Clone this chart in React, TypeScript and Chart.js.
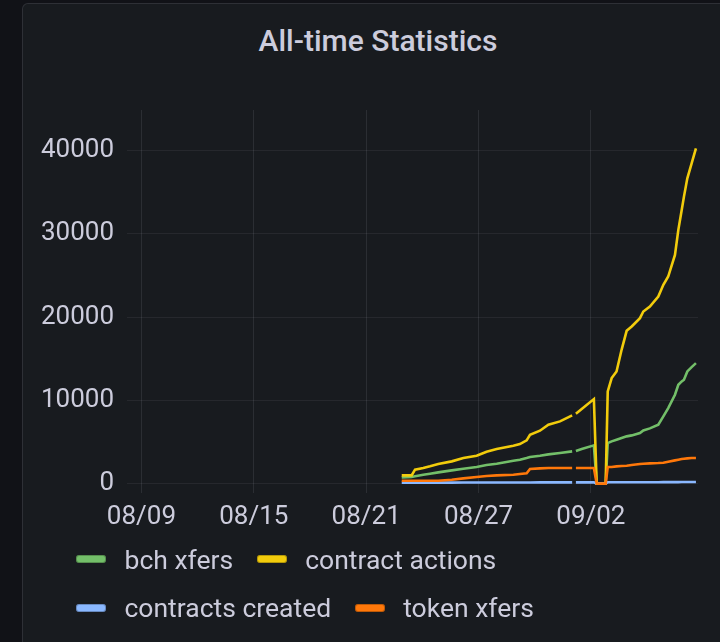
import React, { useEffect, useRef } from "react";
import { Chart, registerables } from "chart.js";

Chart.register(...registerables);

const chartTitle = "All-time Statistics";
const seriesNames = ["bch xfers", "contract actions", "contracts created", "token xfers"];
const seriesColors = ["#73BF69", "#F2CC0C", "#8AB8FF", "#FF780A"];
const legendRows = [
  [0, 1],
  [2, 3],
];

// sample times, in days since 08/09 00:00
const times = [
  13.9, 14.43, 14.61, 15.05, 15.41, 15.85, 16.57, 17.19, 17.9, 18.43,
  18.97, 19.86, 20.21, 20.57, 20.75, 21.28, 21.73, 22.35, 23.0, 23.1,
  23.2, 23.51, 24.16, 24.31, 24.79, 24.9, 25.11, 25.37, 25.64, 25.91,
  26.18, 26.62, 26.8, 27.15, 27.6, 27.87, 28.13, 28.49, 28.67, 28.85,
  28.97, 29.15, 29.38, 29.61,
];

const bchXfers = [
  760, 800, 880, 1080, 1200, 1360, 1600, 1800, 2000, 2240,
  2400, 2760, 2880, 3080, 3200, 3360, 3520, 3680, 3880, null,
  3920, 4160, 4600, 0, 0, 4880, 5080, 5280, 5480, 5680,
  5800, 6080, 6400, 6640, 7080, 8080, 9080, 10680, 11880, 12280,
  12480, 13480, 14000, 14480,
];

const contractActions = [
  1000, 1000, 1680, 1880, 2080, 2360, 2680, 3080, 3360, 3840,
  4160, 4560, 4760, 5200, 5880, 6360, 7080, 7480, 8200, null,
  8400, 8960, 10160, 0, 0, 11080, 12680, 13480, 16080, 18360,
  18880, 19880, 20680, 21280, 22480, 23880, 24880, 27480, 30480, 32880,
  34480, 36680, 38480, 40280,
];

const contractsCreated = [
  120, 120, 120, 120, 130, 130, 130, 140, 140, 140,
  150, 150, 150, 150, 150, 160, 160, 160, 160, null,
  160, 160, 160, 0, 0, 170, 170, 170, 170, 170,
  180, 180, 180, 180, 180, 190, 190, 190, 190, 200,
  200, 200, 200, 200,
];

const tokenXfers = [
  360, 360, 360, 360, 360, 360, 480, 640, 800, 920,
  1000, 1080, 1160, 1240, 1760, 1840, 1880, 1880, 1880, null,
  1880, 1880, 1880, 0, 0, 2000, 2000, 2080, 2120, 2160,
  2240, 2360, 2400, 2440, 2480, 2520, 2640, 2800, 2880, 2960,
  3000, 3040, 3080, 3080,
];

const xTickDays = [0, 6, 12, 18, 24];
const xTickLabels = ["08/09", "08/15", "08/21", "08/27", "09/02"];
const yTickValues = [0, 10000, 20000, 30000, 40000];

const textColor = "rgb(204, 204, 220)";
const fontFamily = "Roboto, 'Noto Sans', sans-serif";

export default function App() {
  const canvasRef = useRef<HTMLCanvasElement>(null);

  useEffect(() => {
    const canvas = canvasRef.current;
    if (!canvas) return;
    const seriesValues = [bchXfers, contractActions, contractsCreated, tokenXfers];
    const chart = new Chart(canvas, {
      type: "line",
      data: {
        datasets: seriesNames.map((name, i) => ({
          label: name,
          data: times.map((t, j) => ({ x: t, y: seriesValues[i][j] })),
          borderColor: seriesColors[i],
          backgroundColor: seriesColors[i],
          borderWidth: 2.6,
          pointRadius: 0,
          pointHoverRadius: 0,
          tension: 0,
          spanGaps: false,
          fill: false,
          order: seriesNames.length - 1 - i,
        })),
      },
      options: {
        responsive: false,
        animation: false,
        layout: { padding: { left: 0, right: 22, top: 110, bottom: 0 } },
        plugins: {
          legend: { display: false },
          tooltip: { enabled: false },
          title: { display: false },
        },
        scales: {
          x: {
            type: "linear",
            min: -0.77,
            max: 29.72,
            afterBuildTicks: (scale: any) => {
              scale.ticks = xTickDays.map((v) => ({ value: v }));
            },
            afterFit: (scale: any) => {
              scale.height = 149;
            },
            ticks: {
              autoSkip: false,
              maxRotation: 0,
              minRotation: 0,
              padding: 9,
              color: textColor,
              font: { family: fontFamily, size: 26 },
              callback: (_v: any, index: number) => xTickLabels[index],
            },
            grid: { color: "rgba(204, 204, 220, 0.11)", drawTicks: false },
            border: { display: false },
          },
          y: {
            type: "linear",
            min: -1120,
            max: 44880,
            afterBuildTicks: (scale: any) => {
              scale.ticks = yTickValues.map((v) => ({ value: v }));
            },
            afterFit: (scale: any) => {
              scale.width = 127;
            },
            ticks: {
              padding: 13,
              color: textColor,
              font: { family: fontFamily, size: 26 },
              callback: (v: any) => String(v),
            },
            grid: { color: "rgba(204, 204, 220, 0.08)", drawTicks: false },
            border: { display: false },
          },
        },
      },
    });
    return () => chart.destroy();
  }, []);

  return (
    <div
      style={{
        position: "fixed",
        left: 0,
        top: 0,
        width: 720,
        height: 642,
        background: "#111217",
        overflow: "hidden",
      }}
    >
      <div
        style={{
          position: "absolute",
          left: 22,
          top: 3,
          width: 740,
          height: 720,
          background: "#181b1f",
          border: "1px solid rgba(204, 204, 220, 0.12)",
          borderRadius: 6,
          boxSizing: "border-box",
        }}
      />
      <div
        style={{
          position: "absolute",
          left: 22,
          width: 712,
          top: 22.7,
          height: 36,
          lineHeight: "36px",
          textAlign: "center",
          fontFamily,
          fontSize: 30,
          fontWeight: 500,
          color: textColor,
          whiteSpace: "nowrap",
        }}
      >
        {chartTitle}
      </div>
      <canvas
        ref={canvasRef}
        width={720}
        height={642}
        style={{ position: "absolute", left: 0, top: 0, width: 720, height: 642 }}
      />
      {legendRows.map((row, r) => (
        <div
          key={r}
          style={{
            position: "absolute",
            left: 76,
            top: 544 + r * 48.7,
            height: 30,
            display: "flex",
            alignItems: "center",
            fontFamily,
            fontSize: 26.5,
            color: textColor,
            whiteSpace: "nowrap",
          }}
        >
          {row.map((i) => (
            <div key={i} style={{ display: "flex", alignItems: "center", marginRight: 23.5 }}>
              <span
                style={{
                  display: "inline-block",
                  width: 30,
                  height: 8,
                  borderRadius: 3,
                  background: seriesColors[i],
                  boxShadow: "inset 0 0 0 1px rgba(0,0,0,0.25)",
                  marginRight: 18.5,
                }}
              />
              <span>{seriesNames[i]}</span>
            </div>
          ))}
        </div>
      ))}
    </div>
  );
}
